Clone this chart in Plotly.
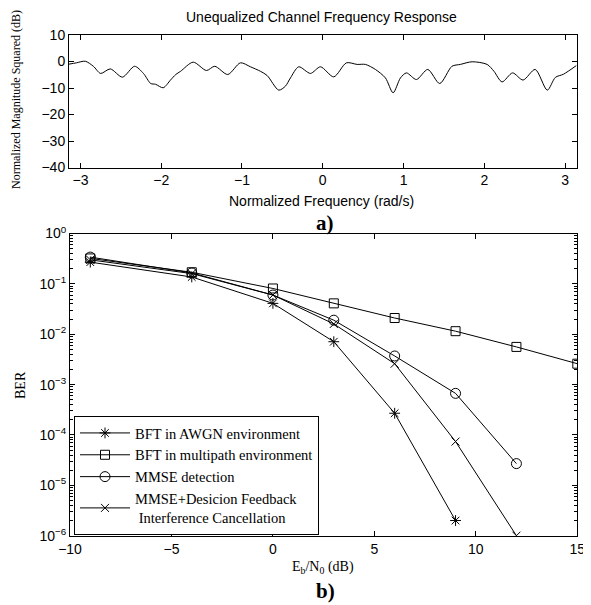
import plotly.graph_objects as go

# ---------------- data: top panel (channel frequency response) ----------------
freq = [-3.1416, -3.05, -2.94, -2.84, -2.75, -2.63, -2.48, -2.33, -2.22, -2.13, -2.07,
        -1.975, -1.885, -1.82, -1.76, -1.604, -1.44, -1.337, -1.176, -1.019, -0.895,
        -0.771, -0.688, -0.545, -0.462, -0.40, -0.297, -0.152, -0.028, 0.136, 0.293,
        0.426, 0.528, 0.652, 0.776, 0.871, 0.962, 1.036, 1.16, 1.30, 1.448, 1.60,
        1.704, 1.849, 2.035, 2.12, 2.22, 2.35, 2.48, 2.63, 2.78, 2.88, 2.98, 3.1416]
mag_db = [-1.0, -0.5, 0.1, -1.8, -4.5, -2.8, -5.9, -1.8, -4.5, -8.3, -8.6,
          -9.9, -7.0, -4.9, -3.7, -0.25, -3.4, -1.8, -4.9, -0.5, -2.0,
          -3.7, -5.3, -10.8, -9.3, -6.2, -2.0, -4.5, -2.0, -5.8, -0.5,
          -1.1, -1.1, -3.0, -6.2, -11.8, -6.2, -4.3, -6.8, -3.0, -8.3, -1.8,
          -1.1, -0.1, -1.1, -3.7, -7.7, -4.3, -7.0, -3.0, -10.8, -6.0, -4.8, -1.5]

# ---------------- data: bottom panel (BER curves) ----------------
ebn0_awgn = [-9, -4, 0, 3, 6, 9]
ber_awgn = [0.27, 0.137, 0.041, 0.0071, 2.7e-4, 2e-6]

ebn0_multi = [-9, -4, 0, 3, 6, 9, 12, 15]
ber_multi = [0.32, 0.17, 0.081, 0.041, 0.021, 0.0115, 0.0056, 0.0026]

ebn0_mmse = [-9, -4, 0, 3, 6, 9, 12]
ber_mmse = [0.34, 0.165, 0.06, 0.019, 0.0037, 6.7e-4, 2.7e-5]

ebn0_dfic = [-9, -4, 0, 3, 6, 9, 12]
ber_dfic = [0.30, 0.16, 0.06, 0.016, 0.0026, 7.4e-5, 1e-6]

names = ["BFT in AWGN environment",
         "BFT in multipath environment",
         "MMSE detection",
         "MMSE+Desicion Feedback<br> Interference Cancellation"]

top_xticks = [-3, -2, -1, 0, 1, 2, 3]
top_yticks = [-40, -30, -20, -10, 0, 10]
bot_xticks = [-10, -5, 0, 5, 10, 15]
ber_tickvals = [1e-6, 1e-5, 1e-4, 1e-3, 1e-2, 1e-1, 1]
ber_ticktext = ["10<sup>−6</sup>", "10<sup>−5</sup>", "10<sup>−4</sup>", "10<sup>−3</sup>",
                "10<sup>−2</sup>", "10<sup>−1</sup>", "10<sup>0</sup>"]

# the page body has an 8px default margin: the figure sits at (8, 8)
OFF = 8
W, H = 591 - OFF, 605 - OFF
def px(x):
    return (x - OFF) / W
def py(y):
    return 1 - (y - OFF) / H

SANS = "Liberation Sans, Arial, sans-serif"
SERIF = "Liberation Serif, Times New Roman, serif"

fig = go.Figure()

fig.add_trace(go.Scatter(x=freq, y=mag_db, mode="lines",
                         line=dict(color="black", width=1, shape="spline", smoothing=0.8),
                         xaxis="x", yaxis="y", showlegend=False))

series = [
    (ebn0_awgn, ber_awgn, "asterisk-open", 9),
    (ebn0_multi, ber_multi, "square-open", 9),
    (ebn0_mmse, ber_mmse, "circle-open", 10),
    (ebn0_dfic, ber_dfic, "x-thin-open", 8),
]
for (xs, ys, sym, sz), nm in zip(series, names):
    fig.add_trace(go.Scatter(x=xs, y=ys, mode="lines+markers", name=nm,
                             line=dict(color="black", width=1),
                             marker=dict(symbol=sym, size=sz, color="black",
                                         line=dict(color="black", width=1)),
                             xaxis="x2", yaxis="y2"))

axis_common = dict(showline=True, linecolor="black", linewidth=1, mirror="ticks",
                   ticks="inside", ticklen=5, tickcolor="black", showgrid=False,
                   zeroline=False, automargin=False,
                   tickfont=dict(family=SANS, size=14, color="black"))

fig.update_layout(
    width=W, height=H,
    margin=dict(l=0, r=0, t=0, b=0, pad=0),
    paper_bgcolor="white", plot_bgcolor="white",
    xaxis=dict(domain=[px(69), px(576.5)], range=[-3.1416, 3.1416],
               tickvals=top_xticks, anchor="y", **axis_common),
    yaxis=dict(domain=[py(167.5), py(35)], range=[-40, 10],
               tickvals=top_yticks, anchor="x", **axis_common),
    xaxis2=dict(domain=[px(70), px(577.3)], range=[-10, 15],
                tickvals=bot_xticks, anchor="y2", **axis_common),
    yaxis2=dict(domain=[py(535.7), py(233.5)], type="log", range=[-6, 0],
                tickvals=ber_tickvals, ticktext=ber_ticktext, anchor="x2",
                minor=dict(ticks="inside", ticklen=3, tickcolor="black", dtick="D1"),
                **axis_common),
    legend=dict(x=px(74), y=py(416), xanchor="left", yanchor="top",
                bgcolor="white", bordercolor="black", borderwidth=1,
                font=dict(family=SERIF, size=14.5, color="black"),
                itemwidth=50, tracegroupgap=0),
    showlegend=True,
)

annots = [
    dict(text="Unequalized Channel Frequency Response", x=px(322), y=py(17),
         font=dict(family=SANS, size=14, color="black")),
    dict(text="Normalized Frequency (rad/s)", x=px(322), y=py(201),
         font=dict(family=SANS, size=14, color="black")),
    dict(text="<b>a)</b>", x=px(325), y=py(223),
         font=dict(family=SERIF, size=21, color="black")),
    dict(text="Normalized Magnitude Squared (dB)", x=px(16), y=py(100), textangle=-90,
         font=dict(family=SERIF, size=12, color="black")),
    dict(text="BER", x=px(20), y=py(385), textangle=-90,
         font=dict(family=SERIF, size=14, color="black")),
    dict(text="E<sub>b</sub>/N<sub>0</sub> (dB)", x=px(323), y=py(567),
         font=dict(family=SERIF, size=14, color="black")),
    dict(text="<b>b)</b>", x=px(325), y=py(591),
         font=dict(family=SERIF, size=21, color="black")),
]
for a in annots:
    fig.add_annotation(xref="paper", yref="paper", showarrow=False,
                       xanchor="center", yanchor="middle", **a)

fig.write_html("out.html")
